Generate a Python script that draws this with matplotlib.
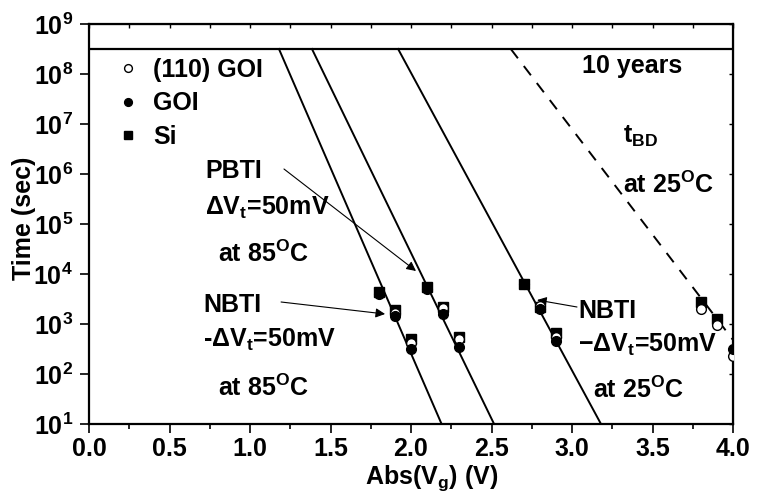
import numpy as np
import matplotlib
matplotlib.use('Agg')
import matplotlib.pyplot as plt

plt.rcParams['font.family'] = ['Liberation Sans', 'DejaVu Sans']
plt.rcParams['font.weight'] = 'bold'
plt.rcParams['mathtext.fontset'] = 'custom'
plt.rcParams['mathtext.rm'] = 'Liberation Sans:bold'
plt.rcParams['mathtext.it'] = 'Liberation Sans:bold'
plt.rcParams['mathtext.bf'] = 'Liberation Sans:bold'

# measured points, Abs(Vg) in V and time in sec
si_v = [1.8, 1.9, 2.0, 2.1, 2.2, 2.3, 2.7, 2.8, 2.9, 3.8, 3.9]
si_t = [4.3e3, 1.9e3, 4.9e2, 5.4e3, 2.2e3, 5.6e2, 6.3e3, 2.2e3, 6.5e2, 2.7e3, 1.25e3]
goi110_v = [1.9, 2.0, 2.2, 2.3, 2.8, 2.9, 3.8, 3.9, 4.0]
goi110_t = [1.65e3, 4.2e2, 2.1e3, 5.0e2, 2.3e3, 5.5e2, 1.95e3, 9.5e2, 2.25e2]
goi_v = [1.8, 1.9, 2.0, 2.1, 2.2, 2.3, 2.7, 2.8, 2.9, 4.0]
goi_t = [4.0e3, 1.45e3, 3.2e2, 5.1e3, 1.6e3, 3.4e2, 6.2e3, 1.95e3, 4.5e2, 3.1e2]

# fitted lines (end points)
nbti85_v = [1.18, 2.19]
pbti85_v = [1.385, 2.516]
nbti25_v = [1.92, 3.18]
fit_t = [3.16e8, 1e1]
tbd_v = [2.62, 4.0]
tbd_t = [3.16e8, 4.8e2]
ten_years = 3.15e8

fs = 18

fig = plt.figure(figsize=(7.57, 5.03), dpi=100)
ax = fig.add_axes([89/757, 1-424/503, (733-89)/757, (424-24)/503])

ax.plot([0, 4], [ten_years, ten_years], color='k', lw=1.6)
for v in (nbti85_v, pbti85_v, nbti25_v):
    ax.plot(v, fit_t, color='k', lw=1.4)
ax.plot(tbd_v, tbd_t, color='k', lw=1.4, dashes=(6, 5))

ax.plot(si_v, si_t, 's', color='k', ms=6.5, zorder=3, label='Si')
ax.plot(goi110_v, goi110_t, 'o', mfc='white', mec='k', mew=1.0, ms=7, zorder=4, label='(110) GOI')
ax.plot(goi_v, goi_t, 'o', color='k', ms=7, zorder=5, label='GOI')

h, l = ax.get_legend_handles_labels()
ax.legend([h[1], h[2], h[0]], [l[1], l[2], l[0]], loc='upper left', bbox_to_anchor=(0.03, 0.94),
          frameon=False, fontsize=fs, markerscale=0.8, handlelength=0.8, handletextpad=0.6,
          labelspacing=0.38, borderaxespad=0)

ax.set_yscale('log')
ax.set_xlim(0, 4)
ax.set_ylim(1e1, 1e9)
ax.set_xticks(np.arange(0, 4.01, 0.5))
ax.set_xticks(np.arange(0.25, 4, 0.5), minor=True)
ax.set_xticklabels(['%.1f' % x for x in np.arange(0, 4.01, 0.5)])
ax.set_yticks([10.0**e for e in range(1, 10)])
ax.set_yticks([], minor=True)
ax.set_yticklabels([r'$10^{%d}$' % e for e in range(1, 10)])
ax.tick_params(axis='both', which='major', direction='out', length=6.5, width=1.2, labelsize=fs)
ax.tick_params(axis='x', which='minor', direction='out', length=3.5, width=1.2)
ax.tick_params(axis='x', pad=3)
ax.tick_params(axis='y', pad=5)
for s in ax.spines.values():
    s.set_linewidth(1.6)

top = ax.secondary_xaxis('top')
top.set_xticks(np.arange(0, 4.01, 0.25))
top.tick_params(direction='in', length=3, width=1.0, labeltop=False)
right = ax.secondary_yaxis('right')
right.set_yticks([10.0**e for e in range(1, 10)])
right.set_yticks([], minor=True)
right.tick_params(direction='in', length=3, width=1.0, labelright=False)

fig.text(24/757, 1-218/503, 'Time (sec)', rotation=90, ha='center', va='center', fontsize=fs)
fig.text(432/757, 1-478/503, r'Abs(V$_{g}$) (V)', ha='center', va='center', fontsize=fs)

ax.text(0.72, 10**5.92, 'PBTI', fontsize=fs, va='baseline')
ax.text(0.72, 10**5.18, r'ΔV$_{t}$=50mV', fontsize=fs, va='baseline')
ax.text(0.80, 10**4.24, r'at 85$^{O}$C', fontsize=fs, va='baseline')
ax.text(0.708, 10**3.24, 'NBTI', fontsize=fs, va='baseline')
ax.text(0.708, 10**2.54, r'-ΔV$_{t}$=50mV', fontsize=fs, va='baseline')
ax.text(0.80, 10**1.56, r'at 85$^{O}$C', fontsize=fs, va='baseline')
ax.text(3.06, 10**8.02, '10 years', fontsize=fs, va='baseline')
ax.text(3.317, 10**6.62, r't$_{BD}$', fontsize=fs, va='baseline')
ax.text(3.317, 10**5.62, r'at 25$^{O}$C', fontsize=fs, va='baseline')
ax.text(3.04, 10**3.12, 'NBTI', fontsize=fs, va='baseline')
ax.text(3.04, 10**2.44, r'−ΔV$_{t}$=50mV', fontsize=fs, va='baseline')
ax.text(3.13, 10**1.52, r'at 25$^{O}$C', fontsize=fs, va='baseline')

arrow = dict(arrowstyle='-|>', lw=0.8, color='k', mutation_scale=14, shrinkA=0, shrinkB=0)
ax.annotate('', xy=(2.031, 10**4.06), xytext=(1.211, 10**6.10), arrowprops=arrow)
ax.annotate('', xy=(1.839, 10**3.20), xytext=(1.193, 10**3.44), arrowprops=arrow)
ax.annotate('', xy=(2.783, 10**3.48), xytext=(3.031, 10**3.34), arrowprops=arrow)

fig.savefig('out.png', dpi=100)
